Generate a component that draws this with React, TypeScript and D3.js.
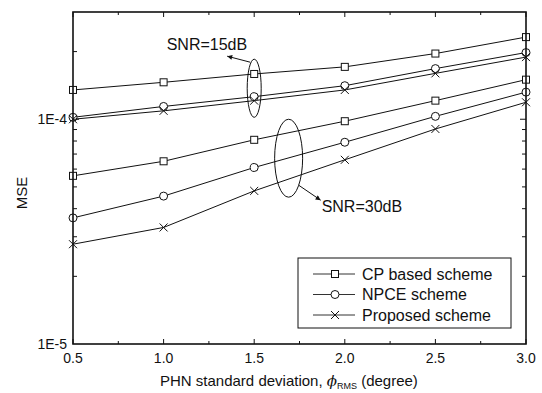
import React, { useEffect, useRef } from 'react';
import * as d3 from 'd3';

// PHN standard deviation (degree)
const phn = [0.5, 1.0, 1.5, 2.0, 2.5, 3.0];

// MSE values
const cp15 = [1.35e-4, 1.46e-4, 1.59e-4, 1.71e-4, 1.96e-4, 2.32e-4];
const npce15 = [1.02e-4, 1.14e-4, 1.26e-4, 1.41e-4, 1.68e-4, 1.98e-4];
const prop15 = [1.0e-4, 1.09e-4, 1.21e-4, 1.35e-4, 1.6e-4, 1.89e-4];
const cp30 = [5.6e-5, 6.5e-5, 8.1e-5, 9.8e-5, 1.21e-4, 1.5e-4];
const npce30 = [3.64e-5, 4.55e-5, 6.1e-5, 7.9e-5, 1.03e-4, 1.32e-4];
const prop30 = [2.78e-5, 3.3e-5, 4.8e-5, 6.6e-5, 9.05e-5, 1.19e-4];

const legendNames = ['CP based scheme', 'NPCE scheme', 'Proposed scheme'];
const xTicks = [0.5, 1.0, 1.5, 2.0, 2.5, 3.0];
const xMinor = [0.75, 1.25, 1.75, 2.25, 2.75];
const yLabels = [1e-5, 1e-4];

const FONT = '"Liberation Sans", Arial, sans-serif';

function drawMarker(g, kind, x, y) {
    if (kind === 'square') {
        g.append('rect').attr('x', x - 3.5).attr('y', y - 3.5).attr('width', 7).attr('height', 7)
            .attr('fill', 'white').attr('stroke', '#111').attr('stroke-width', 1);
    } else if (kind === 'circle') {
        g.append('circle').attr('cx', x).attr('cy', y).attr('r', 4)
            .attr('fill', 'white').attr('stroke', '#111').attr('stroke-width', 1);
    } else {
        g.append('path').attr('d', `M${x - 4},${y - 4}L${x + 4},${y + 4}M${x - 4},${y + 4}L${x + 4},${y - 4}`)
            .attr('fill', 'none').attr('stroke', '#111').attr('stroke-width', 1);
    }
}

function MSEChart() {
    const svgRef = useRef(null);

    useEffect(() => {
        if (!svgRef.current) return;
        const svg = d3.select(svgRef.current);
        svg.selectAll('*').remove();

        const left = 73, right = 526, top = 12, bottom = 344;
        const x = d3.scaleLinear().domain([0.5, 3.0]).range([left, right]);
        const y = d3.scaleLog().domain([1e-5, 3e-4]).range([bottom, top]);

        const line = d3.line()
            .x((d, i) => x(phn[i]))
            .y(d => y(d));

        const series = [
            { v: cp15, m: 'square' }, { v: npce15, m: 'circle' }, { v: prop15, m: 'cross' },
            { v: cp30, m: 'square' }, { v: npce30, m: 'circle' }, { v: prop30, m: 'cross' },
        ];

        series.forEach(s => {
            svg.append('path').datum(s.v)
                .attr('fill', 'none').attr('stroke', '#111').attr('stroke-width', 1)
                .attr('d', line);
        });
        series.forEach(s => {
            const g = svg.append('g');
            s.v.forEach((d, i) => drawMarker(g, s.m, x(phn[i]), y(d)));
        });

        // frame
        svg.append('rect').attr('x', left).attr('y', top).attr('width', right - left).attr('height', bottom - top)
            .attr('fill', 'none').attr('stroke', '#111').attr('stroke-width', 1.6);

        // y ticks (log minor ticks), mirrored on right
        const yMinor = [];
        [1e-5, 1e-4].forEach(dec => {
            for (let k = 1; k <= 9; k++) {
                const v = dec * k;
                if (v <= 3e-4 && v > 1e-5) yMinor.push(v);
            }
        });
        yMinor.forEach(v => {
            const len = v === 1e-4 ? 6 : 4;
            svg.append('line').attr('x1', left).attr('x2', left + len).attr('y1', y(v)).attr('y2', y(v))
                .attr('stroke', '#111').attr('stroke-width', 1);
            if (v !== 2e-4) {
                svg.append('line').attr('x1', right).attr('x2', right - len).attr('y1', y(v)).attr('y2', y(v))
                    .attr('stroke', '#111').attr('stroke-width', 1);
            }
        });

        // x ticks top and bottom
        xTicks.concat(xMinor).forEach(v => {
            const len = xTicks.includes(v) ? 5 : 3;
            svg.append('line').attr('x1', x(v)).attr('x2', x(v)).attr('y1', bottom).attr('y2', bottom - len)
                .attr('stroke', '#111').attr('stroke-width', 1);
            svg.append('line').attr('x1', x(v)).attr('x2', x(v)).attr('y1', top).attr('y2', top + len)
                .attr('stroke', '#111').attr('stroke-width', 1);
        });

        // tick labels
        svg.append('g').selectAll('text').data(xTicks).join('text')
            .attr('x', d => x(d)).attr('y', bottom + 14).attr('dy', '0.35em')
            .attr('text-anchor', 'middle').attr('font-family', FONT).attr('font-size', 14).attr('fill', '#111')
            .text(d => d.toFixed(1));
        svg.append('g').selectAll('text').data(yLabels).join('text')
            .attr('x', left - 6).attr('y', d => y(d)).attr('dy', '0.35em')
            .attr('text-anchor', 'end').attr('font-family', FONT).attr('font-size', 14).attr('fill', '#111')
            .text(d => d === 1e-4 ? '1E-4' : '1E-5');

        // axis titles
        svg.append('text').attr('transform', `translate(27,${(top + bottom) / 2 + 15}) rotate(-90)`)
            .attr('text-anchor', 'middle').attr('font-family', FONT).attr('font-size', 15).attr('fill', '#111')
            .text('MSE');
        const xt = svg.append('text').attr('x', 160).attr('y', 386)
            .attr('font-family', FONT).attr('font-size', 15).attr('fill', '#111');
        xt.append('tspan').text('PHN standard deviation, ');
        xt.append('tspan').attr('font-style', 'italic').attr('font-family', '"DejaVu Serif", serif').text('\u03d5');
        xt.append('tspan').attr('font-size', 9).attr('dy', 3).text('RMS');
        xt.append('tspan').attr('dy', -3).text(' (degree)');

        // annotations
        const defs = svg.append('defs');
        defs.append('marker').attr('id', 'arr').attr('viewBox', '0 0 10 10').attr('refX', 10).attr('refY', 5)
            .attr('markerWidth', 7).attr('markerHeight', 5).attr('orient', 'auto')
            .append('path').attr('d', 'M0,0L10,5L0,10z').attr('fill', '#111');

        const e15 = { cx: x(1.5), top: y(1.85e-4), bot: y(1.02e-4) };
        svg.append('ellipse').attr('cx', e15.cx).attr('cy', (e15.top + e15.bot) / 2)
            .attr('rx', 7).attr('ry', (e15.bot - e15.top) / 2)
            .attr('fill', 'none').attr('stroke', '#111').attr('stroke-width', 1);
        svg.append('line').attr('x1', e15.cx - 4).attr('y1', e15.top + 3).attr('x2', e15.cx - 27).attr('y2', e15.top - 3)
            .attr('stroke', '#111').attr('stroke-width', 1).attr('marker-end', 'url(#arr)');
        svg.append('text').attr('x', e15.cx - 7).attr('y', e15.top - 15).attr('dy', '0.35em')
            .attr('text-anchor', 'end').attr('font-family', FONT).attr('font-size', 16).attr('fill', '#111')
            .text('SNR=15dB');

        const e30 = { cx: x(1.69), top: y(1.0e-4), bot: y(4.5e-5) };
        svg.append('ellipse').attr('cx', e30.cx).attr('cy', (e30.top + e30.bot) / 2)
            .attr('rx', 14).attr('ry', (e30.bot - e30.top) / 2)
            .attr('fill', 'none').attr('stroke', '#111').attr('stroke-width', 1);
        svg.append('line').attr('x1', e30.cx + 10).attr('y1', e30.bot - 12).attr('x2', e30.cx + 32).attr('y2', e30.bot + 3)
            .attr('stroke', '#111').attr('stroke-width', 1).attr('marker-end', 'url(#arr)');
        svg.append('text').attr('x', e30.cx + 33).attr('y', e30.bot + 9).attr('dy', '0.35em')
            .attr('font-family', FONT).attr('font-size', 16).attr('fill', '#111')
            .text('SNR=30dB');

        // legend
        const lg = svg.append('g');
        lg.append('rect').attr('x', 298).attr('y', 258).attr('width', 213).attr('height', 70)
            .attr('fill', 'white').attr('stroke', '#111').attr('stroke-width', 1);
        const kinds = ['square', 'circle', 'cross'];
        legendNames.forEach((name, i) => {
            const ly = 274 + i * 20.5;
            lg.append('line').attr('x1', 313).attr('x2', 355).attr('y1', ly).attr('y2', ly)
                .attr('stroke', '#333').attr('stroke-width', 1);
            drawMarker(lg, kinds[i], 335, ly);
            lg.append('text').attr('x', 362).attr('y', ly).attr('dy', '0.35em')
                .attr('font-family', FONT).attr('font-size', 16).attr('fill', '#111').text(name);
        });
    }, []);

    return <svg ref={svgRef} width={542} height={393} style={{ position: 'absolute', left: 0, top: 0, background: 'white' }} />;
}

export default function App() {
    return <MSEChart />;
}
